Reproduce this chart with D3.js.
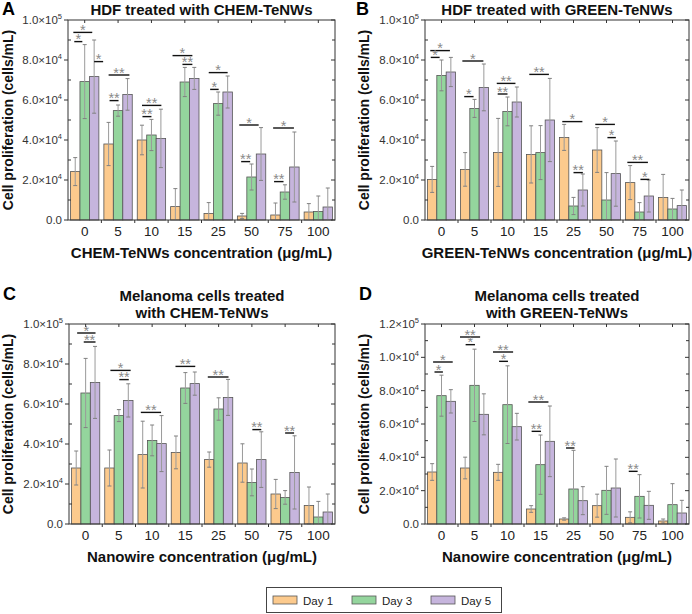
<!DOCTYPE html>
<html><head><meta charset="utf-8">
<script src="https://cdn.jsdelivr.net/npm/d3@7"></script>
<style>
body{margin:0;background:#fff;}
svg{font-family:"Liberation Sans",Arial,sans-serif;}
</style></head><body>
<svg id="c" width="692" height="614"></svg>
<script>
// ---- data (values in thousands of cells/mL) ----
const categories = ["0","5","10","15","25","50","75","100"];
const seriesNames = ["Day 1","Day 3","Day 5"];
const seriesColors = ["#fcca8d","#94d59d","#c6b5dd"];

const aDay1 = [24.2,38,40,6.7,3.3,2,2.5,4];
const aDay3 = [69.2,54.7,42.5,69,58.2,21.5,14,4.3];
const aDay5 = [71.7,62.8,40.8,70.8,64,33,26.5,6.5];
const aSd1 = [7,10.8,7.4,9,5.4,1.3,6,4.2];
const aSd3 = [18.5,2.8,7.8,7.3,5.8,6.5,3.6,7.7];
const aSd5 = [18.3,7.9,14.6,5.5,8,13.2,17.5,9.5];
const aSig = [[0,-0.2,1.8,93.8,"*"],[0,-0.1,0.75,89.2,"*"],[0,2.0,2.95,79.2,"*"],
  [1,0,2.2,72.5,"**"],[1,0.1,1.05,59.7,"**"],
  [2,0,2.05,57.3,"**"],[2,0.05,1,51.7,"**"],
  [3,-0.3,1.8,82.2,"*"],[3,0.75,1.8,77.8,"**"],
  [4,0,2,73.7,"*"],[4,0.15,1.05,65.3,"*"],
  [5,-0.3,1.75,47.5,"*"],[5,-0.1,0.85,29.2,"**"],
  [6,-0.25,1.95,46,"*"],[6,-0.15,0.85,19.2,"**"]];

const bDay1 = [20.3,25.3,33.8,32.8,41.3,35,18.7,11.3];
const bDay3 = [72.3,55.8,54.3,33.7,7,10,4,5.5];
const bDay5 = [74,66.3,59,50,15,23.2,12,7.2];
const bSd1 = [6.5,8.4,17,14.3,6.5,11.2,8.5,11.5];
const bSd3 = [7.7,4.5,7.2,13.5,4.3,13.7,4.7,5.3];
const bSd5 = [7.3,11.7,7.5,20.8,8,16.3,8,7.8];
const bSig = [[0,-0.2,1.9,84.7,"*"],[0,-0.15,0.8,81.3,"*"],
  [1,-0.3,1.95,79.5,"*"],[1,-0.1,0.9,61.7,"*"],
  [2,-0.15,1.85,68.3,"**"],[2,-0.05,1.0,63,"**"],
  [3,-0.2,1.9,72.8,"**"],
  [4,-0.2,1.95,49.2,"*"],[4,1.0,2.0,23.7,"**"],
  [5,-0.2,1.9,47.8,"*"],[5,1.1,2.0,41.2,"*"],
  [6,-0.3,1.9,28.8,"**"],[6,1.1,2.05,20.3,"*"]];

const cDay1 = [28,28,34.7,35.8,32.2,30.5,15,9.3];
const cDay3 = [65.5,54.2,41.8,68,57.5,20.8,13.3,3.5];
const cDay5 = [70.8,61.8,40.2,70.2,63.3,32.2,25.8,6];
const cSd1 = [8.5,9,16.7,8.2,3.8,9.6,7.3,9.2];
const cSd3 = [17.3,3,7.7,7.7,5.6,6.7,3.4,7.8];
const cSd5 = [18,8.3,14,5.8,9,13.9,18.3,9];
const cSig = [[0,0.1,2.05,95.5,"*"],[0,0.8,2.05,91,"**"],
  [1,0.1,2.25,76.8,"*"],[1,1.05,2.05,72.2,"**"],
  [2,-0.2,1.95,55.8,"**"],
  [3,-0.05,2.05,78.8,"**"],
  [4,-0.15,2.05,73.5,"**"],
  [5,1.05,2.0,47.2,"**"],
  [6,1.0,1.95,45.5,"**"]];

const dDay1 = [31.2,33.6,31,9,3,11,4,1.8];
const dDay3 = [77,83.2,71.6,35.6,21,20.2,16.6,11.6];
const dDay5 = [73.6,65.8,58.4,49.6,14,21.6,11.2,6.6];
const dSd1 = [5,6.5,4.8,2,0.7,6.9,3.3,1.2];
const dSd3 = [12.3,21.7,23.3,17.8,23.2,14.4,13,12.6];
const dSd5 = [7,12.3,8,21.2,8.4,17.4,8.4,7.6];
const dSig = [[0,0.1,2.2,97.2,"*"],[0,0.25,1.15,91.2,"*"],
  [1,-0.55,1.6,112.2,"**"],[1,0.05,1.05,107.6,"*"],
  [2,-0.55,1.6,103.2,"**"],[2,0.1,1.05,97.6,"*"],
  [3,-0.3,1.85,73.2,"**"],[3,0.05,1.05,55.6,"**"],
  [4,0.2,1.1,45.6,"**"],
  [6,-0.15,0.8,31.6,"**"]];

const ticks100 = [0,20,40,60,80,100];
const tickLabels100 = ["0.0","2.0×10^4","4.0×10^4","6.0×10^4","8.0×10^4","1.0×10^5"];
const ticks120 = [0,20,40,60,80,100,120];
const tickLabels120 = ["0.0","2.0×10^4","4.0×10^4","6.0×10^4","8.0×10^4","1.0×10^4","1.2×10^5"];

const panels = [
  {letter:"A", title:["HDF treated with CHEM-TeNWs"], xlabel:"CHEM-TeNWs concentration (μg/mL)",
   box:[68,335,20,220], ymax:100, ticks:ticks100, tl:tickLabels100,
   vals:[aDay1,aDay3,aDay5], sds:[aSd1,aSd3,aSd5], sig:aSig, lx:2, ly:15, ylx:13},
  {letter:"B", title:["HDF treated with GREEN-TeNWs"], xlabel:"GREEN-TeNWs concentration (μg/mL)",
   box:[425,689,20,220], ymax:100, ticks:ticks100, tl:tickLabels100,
   vals:[bDay1,bDay3,bDay5], sds:[bSd1,bSd3,bSd5], sig:bSig, lx:356, ly:15, ylx:369},
  {letter:"C", title:["Melanoma cells treated","with CHEM-TeNWs"], xlabel:"Nanowire concentration (μg/mL)",
   box:[69,335,324,524], ymax:100, ticks:ticks100, tl:tickLabels100,
   vals:[cDay1,cDay3,cDay5], sds:[cSd1,cSd3,cSd5], sig:cSig, lx:3, ly:300, ylx:13},
  {letter:"D", title:["Melanoma cells treated","with GREEN-TeNWs"], xlabel:"Nanowire concentration (μg/mL)",
   box:[425,689,324,524], ymax:120, ticks:ticks120, tl:tickLabels120,
   vals:[dDay1,dDay3,dDay5], sds:[dSd1,dSd3,dSd5], sig:dSig, lx:359, ly:300, ylx:369}
];

const svg = d3.select("#c");

panels.forEach(p => {
  const [L,R,T,B] = p.box;
  const g = svg.append("g");
  const x = d3.scaleBand().domain(categories).range([L,R]).paddingInner(0.15).paddingOuter(0.075);
  const y = d3.scaleLinear().domain([0,p.ymax]).range([B,T]);
  const bw = x.bandwidth()/3;
  const cx = (ci,u) => x(categories[ci]) + bw/2 + u*bw;

  g.append("text").attr("x",p.lx).attr("y",p.ly).attr("font-size",18).attr("font-weight","bold").text(p.letter);
  p.title.forEach((t,i)=>{
    const ty = p.title.length===1 ? T-5 : T-23 + i*17;
    g.append("text").attr("x",(L+R)/2).attr("y",ty).attr("text-anchor","middle")
      .attr("font-size",15).attr("font-weight","bold").attr("fill","#111").text(t);
  });
  g.append("text").attr("transform",`translate(${p.ylx},${(T+B)/2}) rotate(-90)`)
    .attr("text-anchor","middle").attr("font-size",14).attr("font-weight","bold").attr("fill","#111")
    .text("Cell proliferation (cells/mL)");
  g.append("text").attr("x",(L+R)/2).attr("y",B+38).attr("text-anchor","middle")
    .attr("font-size",15).attr("font-weight","bold").attr("fill","#111").text(p.xlabel);

  // bars
  p.vals.forEach((arr,si)=>{
    g.selectAll(null).data(arr).enter().append("rect")
      .attr("x",(d,i)=>x(categories[i]) + si*bw)
      .attr("y",d=>y(d)).attr("width",bw).attr("height",d=>B-y(d))
      .attr("fill",seriesColors[si]).attr("stroke","#555").attr("stroke-width",0.8);
  });
  // error bars
  p.vals.forEach((arr,si)=>{
    arr.forEach((v,i)=>{
      const sd = p.sds[si][i];
      const xc = x(categories[i]) + si*bw + bw/2;
      const y1 = y(v+sd), y0 = y(Math.max(0,v-sd));
      g.append("line").attr("x1",xc).attr("x2",xc).attr("y1",y1).attr("y2",y0)
        .attr("stroke","#9a9a9a").attr("stroke-width",1);
      g.append("line").attr("x1",xc-2).attr("x2",xc+2).attr("y1",y1).attr("y2",y1)
        .attr("stroke","#808080").attr("stroke-width",1);
      if (v-sd>0) g.append("line").attr("x1",xc-2).attr("x2",xc+2).attr("y1",y0).attr("y2",y0)
        .attr("stroke","#808080").attr("stroke-width",1);
    });
  });
  // significance
  p.sig.forEach(s=>{
    const [ci,u1,u2,v,lab] = s;
    const x1 = cx(ci,u1), x2 = cx(ci,u2), yy = y(v);
    g.append("line").attr("x1",x1).attr("x2",x2).attr("y1",yy).attr("y2",yy)
      .attr("stroke","#111").attr("stroke-width",1.4);
    g.append("text").attr("x",(x1+x2)/2).attr("y",yy+2.5).attr("text-anchor","middle")
      .attr("font-size",14.5).attr("fill","#8a8a8a").text(lab);
  });

  // frame
  g.append("rect").attr("x",L).attr("y",T).attr("width",R-L).attr("height",B-T)
    .attr("fill","none").attr("stroke","#333").attr("stroke-width",1);

  const minor = d3.range(0,p.ymax+0.1,10);
  minor.forEach(m=>{
    const major = p.ticks.includes(m);
    g.append("line").attr("x1",major?L-4:L).attr("x2",major?L:L+3).attr("y1",y(m)).attr("y2",y(m))
      .attr("stroke","#333").attr("stroke-width",1);
    g.append("line").attr("x1",R).attr("x2",R-(major?4:3)).attr("y1",y(m)).attr("y2",y(m))
      .attr("stroke","#333").attr("stroke-width",1);
  });
  p.ticks.forEach((t,i)=>{
    const lab = p.tl[i].split("^");
    const tx = g.append("text").attr("x",L-6).attr("y",y(t)+4).attr("text-anchor","end")
      .attr("font-size",11.5).attr("fill","#333");
    tx.append("tspan").text(lab[0]);
    if (lab[1]) tx.append("tspan").attr("dy",-5).attr("font-size",7.5).text(lab[1]);
  });
  categories.forEach((c,i)=>{
    g.append("text").attr("x",x(c)+x.bandwidth()/2).attr("y",B+15.5).attr("text-anchor","middle")
      .attr("font-size",13.5).attr("fill","#222").text(c);
    g.append("line").attr("x1",x(c)+x.bandwidth()/2).attr("x2",x(c)+x.bandwidth()/2)
      .attr("y1",T).attr("y2",T+3).attr("stroke","#333");
    if (i>0) {
      const xb = x(c) - x.step()*x.paddingInner()/2;
      g.append("line").attr("x1",xb).attr("x2",xb).attr("y1",B).attr("y2",B+3).attr("stroke","#333");
    }
  });
});

// legend
const lg = svg.append("g");
lg.append("rect").attr("x",266.5).attr("y",587.5).attr("width",235).attr("height",25)
  .attr("fill","#fff").attr("stroke","#444").attr("stroke-width",1);
seriesNames.forEach((n,i)=>{
  const lx = 273 + i*79;
  lg.append("rect").attr("x",lx).attr("y",596).attr("width",24).attr("height",8)
    .attr("fill",seriesColors[i]).attr("stroke","#555").attr("stroke-width",0.8);
  lg.append("text").attr("x",lx+30).attr("y",604.5).attr("font-size",11.5).attr("fill","#222").text(n);
});
</script></body></html>
